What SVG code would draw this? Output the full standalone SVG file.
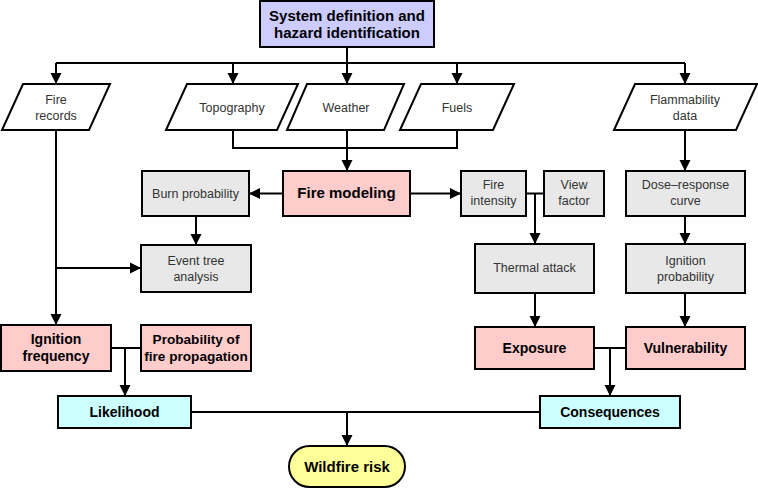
<svg xmlns="http://www.w3.org/2000/svg" width="758" height="489" viewBox="0 0 758 489">
<defs>
<marker id="arr" markerUnits="userSpaceOnUse" markerWidth="12" markerHeight="12" refX="11" refY="6" orient="auto">
<path d="M0,0.5 L11,6 L0,11.5 z" fill="#000"/>
</marker>
<style>
.box{stroke:#000;stroke-width:2}
.sys{fill:#ccccff}
.pink{fill:#ffcccc}
.gray{fill:#e8e8e8}
.cyan{fill:#ccffff}
.yel{fill:#ffff99}
.io{fill:#fff;stroke:#000;stroke-width:2;stroke-linejoin:miter}
.t{font-family:"Liberation Sans",Arial,sans-serif;font-size:12.5px;fill:#333;text-anchor:middle}
.b{font-family:"Liberation Sans",Arial,sans-serif;font-size:14px;font-weight:bold;fill:#000;text-anchor:middle}
.c{fill:none;stroke:#000;stroke-width:2}
.a{marker-end:url(#arr)}
</style>
</defs>
<g id="connectors">
<path class="c a" d="M347,47 V84"/>
<path class="c" d="M56,63 H685"/>
<path class="c a" d="M56,63 V84"/>
<path class="c a" d="M233,63 V84"/>
<path class="c a" d="M457,63 V84"/>
<path class="c a" d="M685,63 V84"/>
<path class="c" d="M233,130 V148 H457 V130"/>
<path class="c a" d="M347,130 V171"/>
<path class="c a" d="M283,193.5 H249"/>
<path class="c a" d="M410,193.5 H461"/>
<path class="c" d="M526,193.5 H544"/>
<path class="c a" d="M535,193.5 V244"/>
<path class="c a" d="M685,130 V171"/>
<path class="c a" d="M196,216 V245"/>
<path class="c a" d="M56,130 V325"/>
<path class="c a" d="M56,268 H141"/>
<path class="c" d="M111,348 H141"/>
<path class="c a" d="M125,348 V396"/>
<path class="c a" d="M535,293 V327"/>
<path class="c a" d="M685,216 V244"/>
<path class="c a" d="M685,293 V327"/>
<path class="c" d="M594,348 H626"/>
<path class="c a" d="M610,348 V396"/>
<path class="c" d="M191,412 H540"/>
<path class="c a" d="M347,412 V446"/>
</g>
<g id="system">
<rect class="box sys" x="260" y="1" width="174" height="46"/>
<text class="b" x="347" y="21" style="font-size:15px">System definition and</text>
<text class="b" x="347" y="38" style="font-size:15px">hazard identification</text>
</g>
<g id="fire-records">
<polygon class="io" points="23,84 110,84 89,130 2,130"/>
<text class="t" x="56" y="104">Fire</text>
<text class="t" x="56" y="120">records</text>
</g>
<g id="topography">
<polygon class="io" points="187,84 298,84 277,130 166,130"/>
<text class="t" x="232" y="112">Topography</text>
</g>
<g id="weather">
<polygon class="io" points="307,84 404,84 384,130 287,130"/>
<text class="t" x="346" y="112">Weather</text>
</g>
<g id="fuels">
<polygon class="io" points="421,84 514,84 493,130 400,130"/>
<text class="t" x="457" y="112">Fuels</text>
</g>
<g id="flammability">
<polygon class="io" points="635,84 757,84 736,130 614,130"/>
<text class="t" x="685" y="104">Flammability</text>
<text class="t" x="685" y="120">data</text>
</g>
<g id="fire-modeling">
<rect class="box pink" x="283" y="171" width="127" height="45"/>
<text class="b" x="346.5" y="198" style="font-size:15px">Fire modeling</text>
</g>
<g id="burn-probability">
<rect class="box gray" x="142" y="171" width="107" height="45"/>
<text class="t" x="195.5" y="198">Burn probability</text>
</g>
<g id="fire-intensity">
<rect class="box gray" x="461" y="171" width="65" height="45"/>
<text class="t" x="493.5" y="189">Fire</text>
<text class="t" x="493.5" y="205">intensity</text>
</g>
<g id="view-factor">
<rect class="box gray" x="544" y="171" width="60" height="45"/>
<text class="t" x="574" y="189">View</text>
<text class="t" x="574" y="205">factor</text>
</g>
<g id="dose-response">
<rect class="box gray" x="626" y="171" width="119" height="45"/>
<text class="t" x="685.5" y="189">Dose–response</text>
<text class="t" x="685.5" y="205">curve</text>
</g>
<g id="event-tree">
<rect class="box gray" x="141" y="245" width="110" height="47"/>
<text class="t" x="196" y="265">Event tree</text>
<text class="t" x="196" y="281">analysis</text>
</g>
<g id="thermal-attack">
<rect class="box gray" x="475" y="244" width="119" height="49"/>
<text class="t" x="534.5" y="272">Thermal attack</text>
</g>
<g id="ignition-probability">
<rect class="box gray" x="626" y="244" width="119" height="49"/>
<text class="t" x="685.5" y="265">Ignition</text>
<text class="t" x="685.5" y="281">probability</text>
</g>
<g id="ignition-frequency">
<rect class="box pink" x="1" y="325" width="110" height="46"/>
<text class="b" x="56" y="344">Ignition</text>
<text class="b" x="56" y="361">frequency</text>
</g>
<g id="propagation">
<rect class="box pink" x="141" y="325" width="110" height="46"/>
<text class="b" x="196" y="344" style="font-size:13.6px">Probability of</text>
<text class="b" x="196" y="361" style="font-size:13.6px">fire propagation</text>
</g>
<g id="exposure">
<rect class="box pink" x="475" y="327" width="119" height="42"/>
<text class="b" x="534.5" y="353">Exposure</text>
</g>
<g id="vulnerability">
<rect class="box pink" x="626" y="327" width="119" height="42"/>
<text class="b" x="685.5" y="353">Vulnerability</text>
</g>
<g id="likelihood">
<rect class="box cyan" x="58" y="396" width="133" height="32"/>
<text class="b" x="124.5" y="417">Likelihood</text>
</g>
<g id="consequences">
<rect class="box cyan" x="540" y="396" width="140" height="32"/>
<text class="b" x="610" y="417">Consequences</text>
</g>
<g id="wildfire-risk">
<rect class="box yel" x="289" y="446" width="116" height="41" rx="20.5" ry="20.5"/>
<text class="b" x="347" y="472" style="font-size:15px">Wildfire risk</text>
</g>
</svg>
